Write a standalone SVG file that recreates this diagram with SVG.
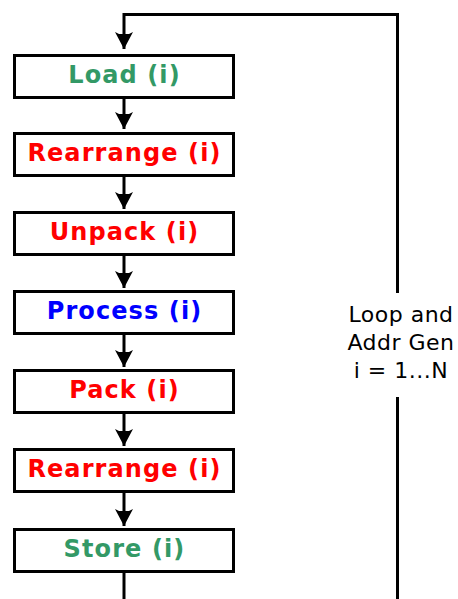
<svg xmlns="http://www.w3.org/2000/svg" width="458" height="599" viewBox="0 0 458 599">
<defs>
<marker id="ah" markerUnits="userSpaceOnUse" markerWidth="20" markerHeight="20" viewBox="-18 -10 20 20" refX="0" refY="0" orient="auto">
<path d="M0,0 L-17,-9 L-15,-5 L-15,5 L-17,9 Z" fill="#000"/>
</marker>
</defs>
<style>
.box{fill:#fff;stroke:#000;stroke-width:3}
.lbl{font-family:"DejaVu Sans",Verdana,sans-serif;font-weight:bold;font-size:24px;letter-spacing:1.1px;text-anchor:middle}
.g{fill:#339966}.r{fill:#ff0000}.b{fill:#0000ff}
.ln{fill:none;stroke:#000;stroke-width:3}
.side{font-family:"DejaVu Sans",Verdana,sans-serif;font-size:22px;letter-spacing:0.5px;text-anchor:middle;fill:#000}
</style>
<rect width="458" height="599" fill="#fff"/>
<g id="connectors">
<path class="ln" d="M397.5,599 V397"/>
<path class="ln" d="M397.5,293 V14.5 H124 V49" marker-end="url(#ah)"/>
<path class="ln" d="M124,99 V129" marker-end="url(#ah)"/>
<path class="ln" d="M124,177 V209" marker-end="url(#ah)"/>
<path class="ln" d="M124,256 V288" marker-end="url(#ah)"/>
<path class="ln" d="M124,335 V367" marker-end="url(#ah)"/>
<path class="ln" d="M124,414 V446" marker-end="url(#ah)"/>
<path class="ln" d="M124,493 V526" marker-end="url(#ah)"/>
<path class="ln" d="M124,573 V599"/>
</g>
<g id="load"><rect class="box" x="14.5" y="55.5" width="219" height="42"/><text class="lbl g" x="124.5" y="83">Load (i)</text></g>
<g id="rearrange1"><rect class="box" x="14.5" y="133.5" width="219" height="42"/><text class="lbl r" x="124.5" y="161">Rearrange (i)</text></g>
<g id="unpack"><rect class="box" x="14.5" y="212.5" width="219" height="42"/><text class="lbl r" x="124.5" y="240">Unpack (i)</text></g>
<g id="process"><rect class="box" x="14.5" y="291.5" width="219" height="42"/><text class="lbl b" x="124.5" y="319">Process (i)</text></g>
<g id="pack"><rect class="box" x="14.5" y="370.5" width="219" height="42"/><text class="lbl r" x="124.5" y="398">Pack (i)</text></g>
<g id="rearrange2"><rect class="box" x="14.5" y="449.5" width="219" height="42"/><text class="lbl r" x="124.5" y="477">Rearrange (i)</text></g>
<g id="store"><rect class="box" x="14.5" y="529.5" width="219" height="42"/><text class="lbl g" x="124.5" y="557">Store (i)</text></g>
<g id="loop-label">
<text class="side" x="401" y="322">Loop and</text>
<text class="side" x="401" y="350">Addr Gen</text>
<text class="side" x="401" y="378">i = 1...N</text>
</g>
</svg>
